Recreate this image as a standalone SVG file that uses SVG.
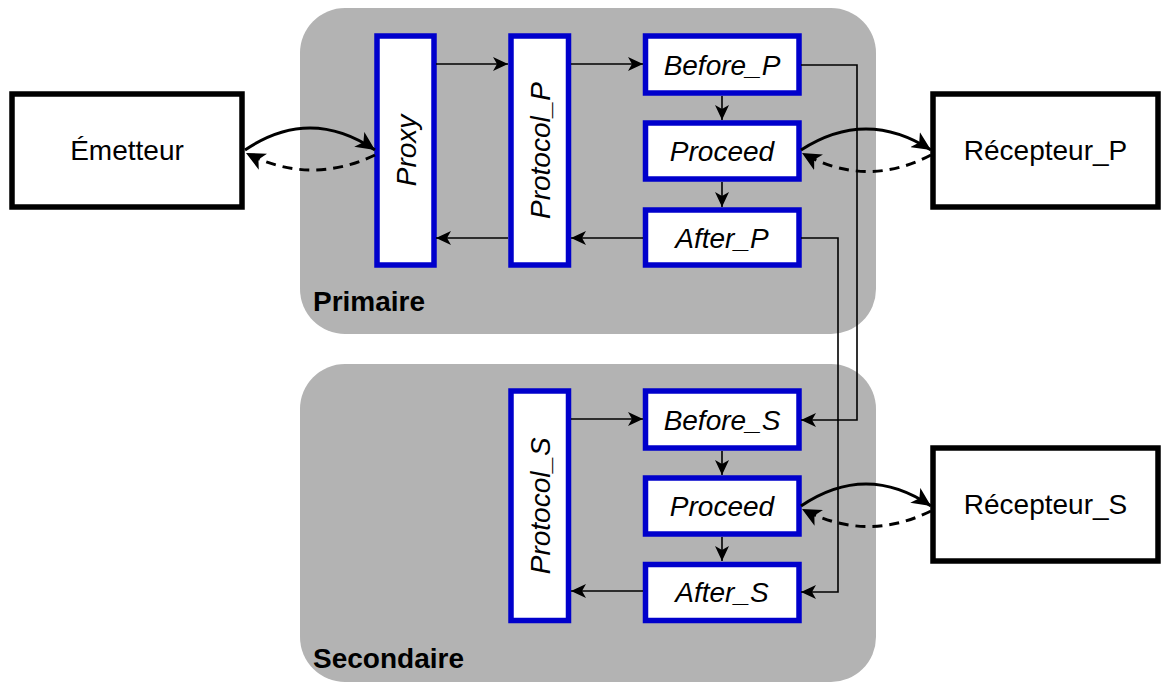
<svg xmlns="http://www.w3.org/2000/svg" width="1163" height="684" viewBox="0 0 1163 684">
<style>
.cont{fill:#b3b3b3;stroke:none}
.ext{fill:#fff;stroke:#000;stroke-width:5.5}
.blk{fill:#fff;stroke:#0000cc;stroke-width:5.5}
text{font-family:"Liberation Sans",Arial,sans-serif;font-size:28px;fill:#000}
.it{font-style:italic}
.lbl{font-weight:bold}
.thin{fill:none;stroke:#000;stroke-width:1.6}
.thick{fill:none;stroke:#000;stroke-width:3}
.dash{stroke-dasharray:10 7}
</style>
<defs>
<marker id="a" markerUnits="userSpaceOnUse" markerWidth="16" markerHeight="14" refX="15" refY="7" orient="auto" viewBox="0 0 16 14">
<path d="M0,0 L15,7 L0,14 L4,7 z" fill="#000"/>
</marker>
<marker id="b" markerUnits="userSpaceOnUse" markerWidth="20" markerHeight="18" refX="19" refY="9" orient="auto" viewBox="0 0 20 18">
<path d="M0,0 L19,9 L0,18 L5,9 z" fill="#000"/>
</marker>
</defs>

<g id="primaire">
<rect class="cont" x="300" y="8" width="576" height="326" rx="45"/>
<text class="lbl" x="313" y="311">Primaire</text>
</g>
<g id="secondaire">
<rect class="cont" x="300" y="364" width="576" height="318" rx="45"/>
<text class="lbl" x="313" y="668">Secondaire</text>
</g>

<g id="emetteur">
<rect class="ext" x="12" y="94" width="230" height="113"/>
<text x="127" y="160" text-anchor="middle">Émetteur</text>
</g>
<g id="recepteur_p">
<rect class="ext" x="933" y="94" width="225" height="113"/>
<text x="1045.5" y="160" text-anchor="middle">Récepteur_P</text>
</g>
<g id="recepteur_s">
<rect class="ext" x="933" y="448" width="225" height="113"/>
<text x="1045.5" y="514" text-anchor="middle">Récepteur_S</text>
</g>

<g id="proxy">
<rect class="blk" x="377" y="36" width="57" height="229"/>
<text class="it" transform="translate(405.5,150.5) rotate(-90)" x="0" y="10" text-anchor="middle">Proxy</text>
</g>
<g id="protocol_p">
<rect class="blk" x="511" y="36" width="57.5" height="229"/>
<text class="it" transform="translate(539.75,150.5) rotate(-90)" x="0" y="10" text-anchor="middle">Protocol_P</text>
</g>
<g id="before_p">
<rect class="blk" x="645.5" y="36" width="153.5" height="57"/>
<text class="it" x="722" y="75" text-anchor="middle">Before_P</text>
</g>
<g id="proceed_p">
<rect class="blk" x="645.5" y="123" width="153.5" height="56"/>
<text class="it" x="722" y="161" text-anchor="middle">Proceed</text>
</g>
<g id="after_p">
<rect class="blk" x="645.5" y="210" width="153.5" height="55"/>
<text class="it" x="722" y="248" text-anchor="middle">After_P</text>
</g>

<g id="protocol_s">
<rect class="blk" x="511" y="391" width="57.5" height="229.5"/>
<text class="it" transform="translate(539.75,505.75) rotate(-90)" x="0" y="10" text-anchor="middle">Protocol_S</text>
</g>
<g id="before_s">
<rect class="blk" x="645.5" y="391" width="153.5" height="57"/>
<text class="it" x="722" y="430" text-anchor="middle">Before_S</text>
</g>
<g id="proceed_s">
<rect class="blk" x="645.5" y="478" width="153.5" height="56"/>
<text class="it" x="722" y="516" text-anchor="middle">Proceed</text>
</g>
<g id="after_s">
<rect class="blk" x="645.5" y="564.5" width="153.5" height="56"/>
<text class="it" x="722" y="602" text-anchor="middle">After_S</text>
</g>

<g id="connectors">
<path class="thin" d="M436,64 H508" marker-end="url(#a)"/>
<path class="thin" d="M571,64 H643" marker-end="url(#a)"/>
<path class="thin" d="M722,96 V120" marker-end="url(#a)"/>
<path class="thin" d="M722,182 V207" marker-end="url(#a)"/>
<path class="thin" d="M643,238 H571" marker-end="url(#a)"/>
<path class="thin" d="M508,238 H436" marker-end="url(#a)"/>
<path class="thin" d="M801,65 H857 V420 H801" marker-end="url(#a)"/>
<path class="thin" d="M801,238 H838 V592 H801" marker-end="url(#a)"/>
<path class="thin" d="M571,419 H643" marker-end="url(#a)"/>
<path class="thin" d="M722,451 V475" marker-end="url(#a)"/>
<path class="thin" d="M722,537 V561" marker-end="url(#a)"/>
<path class="thin" d="M643,591 H571" marker-end="url(#a)"/>

<path class="thick" d="M245,150 Q310,106 375,150" marker-end="url(#b)"/>
<path class="thick dash" d="M375,155 Q310,186 246,153" marker-end="url(#b)"/>
<path class="thick" d="M801,150 Q866,108 931,150" marker-end="url(#b)"/>
<path class="thick dash" d="M931,155 Q866,189 802,153" marker-end="url(#b)"/>
<path class="thick" d="M801,506 Q866,462 931,506" marker-end="url(#b)"/>
<path class="thick dash" d="M931,511 Q866,543 802,509" marker-end="url(#b)"/>
</g>
</svg>
